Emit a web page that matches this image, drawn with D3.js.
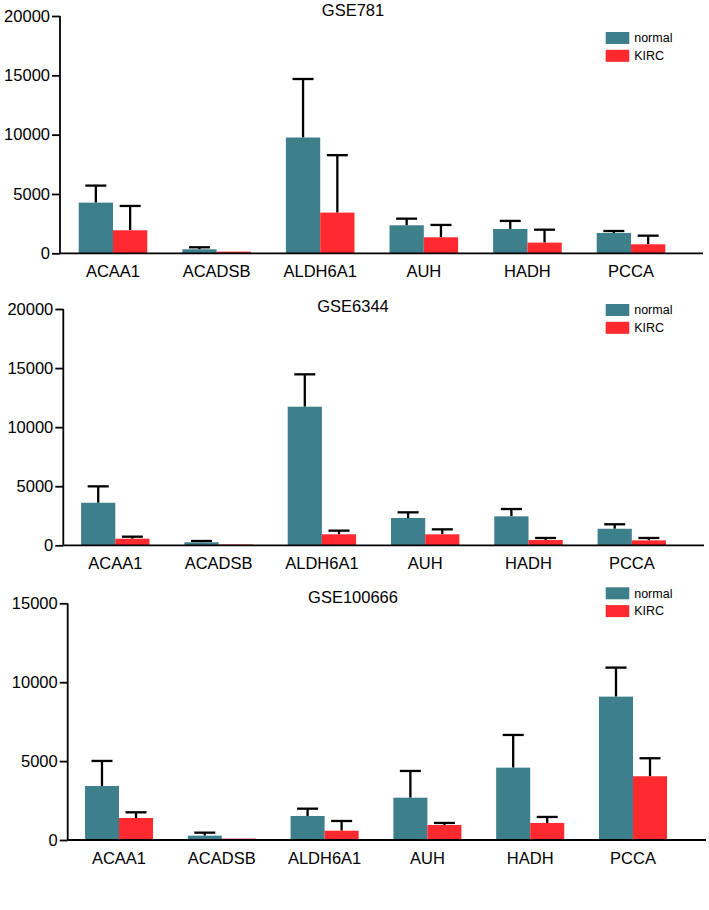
<!DOCTYPE html>
<html lang="en">
<head>
<meta charset="UTF-8">
<title>GSE bar charts</title>
<script src="https://d3js.org/d3.v7.min.js"></script>
<style>
    body { margin: 0; background: #fff; }
    svg text { font-family: "Liberation Sans", Arial, sans-serif; fill: #000; }
</style>
</head>
<body>
<div id="chart"></div>
<script>
// genes on the x axis
const genes = ["ACAA1", "ACADSB", "ALDH6A1", "AUH", "HADH", "PCCA"];
const groups = ["normal", "KIRC"];

// GSE781
const gse781Normal = [4270, 340, 9760, 2360, 2050, 1715];
const gse781NormalSd = [1435, 166, 4930, 560, 680, 165];
const gse781Kirc = [1940, 140, 3430, 1350, 900, 760];
const gse781KircSd = [2050, 0, 4840, 1040, 1090, 725];

// GSE6344
const gse6344Normal = [3600, 254, 11730, 2310, 2450, 1400];
const gse6344NormalSd = [1390, 111, 2740, 480, 620, 380];
const gse6344Kirc = [560, 70, 930, 930, 450, 420];
const gse6344KircSd = [170, 0, 310, 420, 170, 200];

// GSE100666
const gse100666Normal = [3420, 275, 1520, 2680, 4585, 9085];
const gse100666NormalSd = [1590, 190, 465, 1695, 2072, 1840];
const gse100666Kirc = [1395, 90, 590, 950, 1080, 4040];
const gse100666KircSd = [360, 0, 615, 130, 380, 1140];

const ticks20k = [0, 5000, 10000, 15000, 20000];
const ticks15k = [0, 5000, 10000, 15000];

const colors = { normal: "#3d7f8b", KIRC: "#fe2a30" };

// layout of each panel (pixels)
const panels = [
    { title: "GSE781", normal: gse781Normal, normalSd: gse781NormalSd, kirc: gse781Kirc, kircSd: gse781KircSd,
      ticks: ticks20k, yTop: 16, yBase: 253.3, axisX: 60, axisEnd: 703, c0: 113, step: 103.6, titleY: 16, legendY: 32 },
    { title: "GSE6344", normal: gse6344Normal, normalSd: gse6344NormalSd, kirc: gse6344Kirc, kircSd: gse6344KircSd,
      ticks: ticks20k, yTop: 309, yBase: 545.3, axisX: 63.3, axisEnd: 704, c0: 115.3, step: 103.3, titleY: 312.3, legendY: 304 },
    { title: "GSE100666", normal: gse100666Normal, normalSd: gse100666NormalSd, kirc: gse100666Kirc, kircSd: gse100666KircSd,
      ticks: ticks15k, yTop: 603.3, yBase: 840, axisX: 67.7, axisEnd: 706, c0: 119, step: 102.8, titleY: 603.3, legendY: 587.3 }
];

const svg = d3.select("#chart").append("svg")
    .attr("width", 709)
    .attr("height", 910);

panels.forEach(p => {
    const g = svg.append("g");

    const y = d3.scaleLinear()
        .domain([0, d3.max(p.ticks)])
        .range([p.yBase, p.yTop]);

    const pad = 0.338;
    const x = d3.scaleBand()
        .domain(genes)
        .range([p.c0 - p.step / 2, p.c0 + p.step * 5.5])
        .paddingInner(pad)
        .paddingOuter(pad / 2);

    const xs = d3.scaleBand()
        .domain(groups)
        .range([0, x.bandwidth()]);

    const rows = [];
    genes.forEach((gene, i) => {
        rows.push({ gene, grp: "normal", v: p.normal[i], sd: p.normalSd[i] });
        rows.push({ gene, grp: "KIRC", v: p.kirc[i], sd: p.kircSd[i] });
    });

    // error bars (up only)
    const capW = 21;
    const err = g.append("g").selectAll("g")
        .data(rows.filter(d => d.sd > 0))
        .join("g")
        .attr("stroke", "#000")
        .attr("stroke-width", 2.3);
    err.append("line")
        .attr("x1", d => x(d.gene) + xs(d.grp) + xs.bandwidth() / 2)
        .attr("x2", d => x(d.gene) + xs(d.grp) + xs.bandwidth() / 2)
        .attr("y1", d => y(d.v))
        .attr("y2", d => y(d.v + d.sd));
    err.append("line")
        .attr("x1", d => x(d.gene) + xs(d.grp) + xs.bandwidth() / 2 - capW / 2)
        .attr("x2", d => x(d.gene) + xs(d.grp) + xs.bandwidth() / 2 + capW / 2)
        .attr("y1", d => y(d.v + d.sd))
        .attr("y2", d => y(d.v + d.sd));

    // bars
    g.append("g").selectAll("rect")
        .data(rows)
        .join("rect")
        .attr("x", d => x(d.gene) + xs(d.grp))
        .attr("width", xs.bandwidth())
        .attr("y", d => y(d.v))
        .attr("height", d => y(0) - y(d.v))
        .attr("fill", d => colors[d.grp]);

    // y axis
    const yAxis = g.append("g")
        .attr("transform", `translate(${p.axisX},0)`)
        .call(d3.axisLeft(y).tickValues(p.ticks).tickSize(8).tickPadding(2).tickFormat(d3.format("d")));
    yAxis.selectAll("path, line").attr("stroke", "#000").attr("stroke-width", 1.8);
    yAxis.select(".domain").attr("d", `M0,${p.yTop}V${p.yBase}`);
    yAxis.selectAll("text").style("font-size", "16.5px");

    // x axis line
    g.append("line")
        .attr("x1", p.axisX).attr("x2", p.axisEnd)
        .attr("y1", p.yBase).attr("y2", p.yBase)
        .attr("stroke", "#000").attr("stroke-width", 1.8);

    // gene labels
    g.append("g").selectAll("text")
        .data(genes)
        .join("text")
        .attr("x", d => x(d) + x.bandwidth() / 2)
        .attr("y", p.yBase + 23.5)
        .attr("text-anchor", "middle")
        .style("font-size", "16.5px")
        .text(d => d);

    // title
    g.append("text")
        .attr("x", 353)
        .attr("y", p.titleY)
        .attr("text-anchor", "middle")
        .style("font-size", "16.5px")
        .text(p.title);

    // legend
    const lg = g.append("g").attr("transform", `translate(605.7,${p.legendY})`);
    groups.forEach((grp, i) => {
        lg.append("rect")
            .attr("x", 0).attr("y", i * 17.8)
            .attr("width", 23.6).attr("height", 12)
            .attr("fill", colors[grp]);
        lg.append("text")
            .attr("x", 28.5).attr("y", i * 17.8 + 10.3)
            .style("font-size", "12.5px")
            .text(grp);
    });
});
</script>
</body>
</html>
